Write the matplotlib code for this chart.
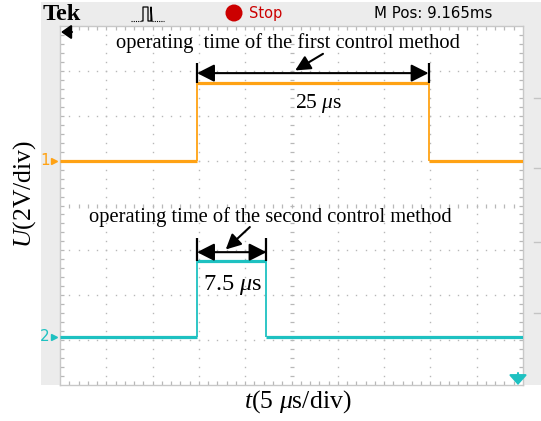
import matplotlib
matplotlib.use("Agg")
import matplotlib.pyplot as plt
from matplotlib.patches import Rectangle, Circle
from matplotlib.transforms import blended_transform_factory

plt.rcParams["mathtext.fontset"] = "custom"
plt.rcParams["mathtext.rm"] = "Liberation Serif"
plt.rcParams["mathtext.it"] = "Liberation Serif:italic"

# Scope settings: 5 us/div horizontally, 2 V/div vertically
time_per_div = 5.0
volt_per_div = 2.0
n_xdiv, n_ydiv = 10, 8

channels = ["1", "2"]
ch_colors = ["#FFA214", "#1EC1C1"]
ch_offset_div = [5.0, 1.07]          # channel ground markers (div from bottom)
ch_high_v = [3.44, 3.38]             # pulse amplitude (V)
pulse_start_us = [14.8, 14.8]
pulse_width_us = [25.0, 7.5]
width_labels = [r"25 $\mu$s", r"7.5 $\mu$s"]
descriptions = ["operating  time of the first control method",
                "operating time of the second control method"]

W, H = 541, 421
fig = plt.figure(figsize=(W / 100, H / 100), dpi=100)

# background layer (pixel coordinates)
bg = fig.add_axes([0, 0, 1, 1], zorder=0)
bg.set_xlim(0, W)
bg.set_ylim(H, 0)
bg.axis("off")
bg.add_patch(Rectangle((41, 2), W - 41, 383, color="#ececec", lw=0))
for yy in [98, 168, 242, 313]:
    bg.plot([534, 541], [yy, yy], color="#c4c4c4", lw=1)

# graticule axes
ax = fig.add_axes([60 / W, (H - 385) / H, 463 / W, 359 / H], zorder=1)
x_max = n_xdiv * time_per_div
ax.set_xlim(0, x_max)
ax.set_ylim(0, n_ydiv)
ax.set_facecolor("white")
ax.set_xticks([])
ax.set_yticks([])
for s in ax.spines.values():
    s.set_color("#c8c8c8")
    s.set_linewidth(1.0)

grid_c = "#b8b8b8"
sub = 5
# dotted division lines
for i in range(1, n_xdiv):
    if i == n_xdiv // 2:
        continue
    ys = [k / sub for k in range(1, n_ydiv * sub)]
    ax.plot([i * time_per_div] * len(ys), ys, ls="none", marker="s", ms=1.0,
            mew=0, color=grid_c, zorder=1)
for j in range(1, n_ydiv):
    if j == n_ydiv // 2:
        continue
    xs = [k * time_per_div / sub for k in range(1, n_xdiv * sub)]
    ax.plot(xs, [j] * len(xs), ls="none", marker="s", ms=1.0, mew=0,
            color=grid_c, zorder=1)
# center cross with minor ticks
xs = [k * time_per_div / sub for k in range(1, n_xdiv * sub)]
ys = [k / sub for k in range(1, n_ydiv * sub)]
ax.plot(xs, [n_ydiv / 2] * len(xs), ls="none", marker="|", ms=3.2, mew=0.9,
        color=grid_c, zorder=1)
ax.plot([x_max / 2] * len(ys), ys, ls="none", marker="_", ms=3.2, mew=0.9,
        color=grid_c, zorder=1)
# ticks on the border
for yb in [0, n_ydiv]:
    ax.plot(xs, [yb] * len(xs), ls="none", marker="|", ms=6, mew=0.9,
            color=grid_c, zorder=1)
for xb in [0, x_max]:
    ax.plot([xb] * len(ys), ys, ls="none", marker="_", ms=6, mew=0.9,
            color=grid_c, zorder=1)

# traces
trans_lbl = blended_transform_factory(ax.transAxes, ax.transData)
for ch, col, off, vh, t0, w in zip(channels, ch_colors, ch_offset_div,
                                   ch_high_v, pulse_start_us, pulse_width_us):
    t1 = t0 + w
    hi = off + vh / volt_per_div
    ax.hlines([off, hi, off], [0, t0, t1], [t0, t1, x_max], color=col,
              lw=2.3, zorder=3)
    ax.vlines([t0, t1], off, hi, color=col, lw=1.3, zorder=3)
    ax.text(-0.032, off, ch, transform=trans_lbl, color=col, fontsize=11,
            ha="center", va="center", clip_on=False)
    ax.plot([-0.012], [off], marker=">", ms=4.5, color=col, transform=trans_lbl,
            clip_on=False)

# annotations: pulse durations
ann = [
    dict(bar_top=7.18, arrow_y=6.95, lbl=(27.9, 6.28), desc=(24.6, 7.62),
         ptr=((28.4, 7.38), (25.4, 7.01)), lbl_fs=15.5),
    dict(bar_top=3.28, arrow_y=2.96, lbl=(18.6, 2.23), desc=(22.7, 3.75),
         ptr=((20.5, 3.52), (17.9, 3.02)), lbl_fs=17.5),
]
for a, vh, off, t0, w, lbl, desc in zip(ann, ch_high_v, ch_offset_div,
                                        pulse_start_us, pulse_width_us,
                                        width_labels, descriptions):
    t1 = t0 + w
    hi = off + vh / volt_per_div
    ax.vlines([t0, t1], hi, a["bar_top"], color="black", lw=1.6, zorder=4)
    ax.annotate("", xy=(t0, a["arrow_y"]), xytext=(t1, a["arrow_y"]),
                arrowprops=dict(arrowstyle="<|-|>,head_length=0.75,head_width=0.38",
                                color="black", lw=1.5, shrinkA=0, shrinkB=0,
                                mutation_scale=14), zorder=4)
    ax.annotate("", xy=a["ptr"][1], xytext=a["ptr"][0],
                arrowprops=dict(arrowstyle="-|>,head_length=0.7,head_width=0.35",
                                color="black", lw=1.5, shrinkA=0, shrinkB=0,
                                mutation_scale=13), zorder=4)
    ax.text(*a["lbl"], lbl, fontsize=a["lbl_fs"], family="Liberation Serif",
            ha="center", va="center", zorder=4)
    ax.text(*a["desc"], desc, fontsize=14.8, family="Liberation Serif",
            ha="center", va="center", zorder=4)

ax.set_ylabel(r"$U$(2V/div)", fontsize=18.5, family="Liberation Serif",
              va="center", ha="center")
ax.yaxis.set_label_coords(-0.076, 0.533)
ax.set_xlabel(r"$t$(5 $\mu$s/div)", fontsize=18.5, family="Liberation Serif",
              va="center", ha="center")
ax.xaxis.set_label_coords(0.514, -0.047)

# top status bar and screen markers
top = fig.add_axes([0, 0, 1, 1], zorder=3)
top.set_xlim(0, W)
top.set_ylim(H, 0)
top.axis("off")
top.patch.set_alpha(0)
top.text(43, 14, "Tek", fontsize=17.5, fontweight="bold", family="Liberation Serif",
         ha="left", va="center")
top.plot([131, 142], [21, 21], color="black", lw=0.8, ls=(0, (1, 1)))
top.plot([142, 143, 143, 148, 148, 151, 151, 152], [21, 21, 7, 7, 21, 21, 7, 21],
         color="black", lw=0.9)
top.plot([152, 164], [21, 21], color="black", lw=0.8, ls=(0, (1, 1)))
top.add_patch(Circle((234, 13), 8.5, color="#CC0000", lw=0))
top.text(249, 13.5, "Stop", fontsize=10.5, color="#CC0000", ha="left", va="center")
top.text(374, 13.5, "M Pos: 9.165ms", fontsize=10.8, color="black", ha="left",
         va="center")
top.annotate("", xy=(61, 32), xytext=(72, 32),
             arrowprops=dict(arrowstyle="-|>,head_length=0.5,head_width=0.35",
                             color="black", lw=1.5, shrinkA=0, shrinkB=0,
                             mutation_scale=12))
top.annotate("", xy=(518, 385), xytext=(518, 373),
             arrowprops=dict(arrowstyle="-|>,head_length=0.5,head_width=0.45",
                             color=ch_colors[1], lw=1.5, shrinkA=0, shrinkB=0,
                             mutation_scale=12))

fig.savefig("out.png", dpi=100)
